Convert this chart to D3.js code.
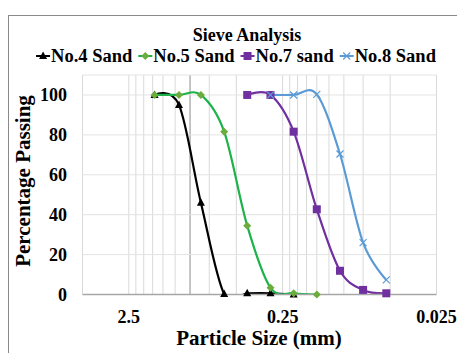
<!DOCTYPE html>
<html><head><meta charset="utf-8">
<script src="https://cdn.jsdelivr.net/npm/d3@7"></script>
<style>
html,body{margin:0;padding:0;background:#fff;}
svg text{font-family:"Liberation Serif","Times New Roman",serif;font-weight:bold;fill:#000;}
</style></head>
<body><svg id="c" width="457" height="353"></svg>
<script>
// ---- data ----
const sizes4 = [1.7, 1.18, 0.85, 0.6, 0.425, 0.3, 0.212];
const no4Sand = [100, 95, 46, 0.3, 0.6, 0.6, 0];
const sizes5 = [1.7, 1.18, 0.85, 0.6, 0.425, 0.3, 0.212, 0.15];
const no5Sand = [100, 100, 100, 81.6, 34.5, 3.4, 0.6, 0];
const sizes7 = [0.425, 0.3, 0.212, 0.15, 0.106, 0.075, 0.053];
const no7Sand = [100, 100, 81.6, 42.7, 11.9, 2.3, 0.6];
const sizes8 = [0.3, 0.212, 0.15, 0.106, 0.075, 0.053];
const no8Sand = [100, 100, 100.3, 70.4, 26, 7.3];
const seriesNames = ["No.4 Sand", "No.5 Sand", "No.7 sand", "No.8 Sand"];
const xTickLabels = [2.5, 0.25, 0.025];
const yTickLabels = [0, 20, 40, 60, 80, 100];
const chartTitle = "Sieve Analysis";
const xTitle = "Particle Size (mm)";
const yTitle = "Percentage Passing";

const series = [
  {name: seriesNames[0], xs: sizes4, ys: no4Sand, line: "#000000", fill: "#000000", marker: "triangle"},
  {name: seriesNames[1], xs: sizes5, ys: no5Sand, line: "#1db34a", fill: "#6aad3d", marker: "diamond"},
  {name: seriesNames[2], xs: sizes7, ys: no7Sand, line: "#7030a0", fill: "#7030a0", marker: "square"},
  {name: seriesNames[3], xs: sizes8, ys: no8Sand, line: "#5b9bd5", fill: "#5b9bd5", marker: "x"}
];

const svg = d3.select("#c");
const L = 82.5, R = 436.5, T = 75, B = 294.5;
const x = d3.scaleLog().domain([5, 0.025]).range([L, R]);
const y = d3.scaleLinear().domain([0, 110]).range([B, T]);

svg.append("defs").append("clipPath").attr("id", "plotclip")
  .append("rect").attr("x", L - 6).attr("y", T - 6).attr("width", R - L + 12).attr("height", B - T + 6.5);

// outer chart border
svg.append("rect").attr("x", 8.5).attr("y", 15.5).attr("width", 460).attr("height", 350)
  .attr("fill", "none").attr("stroke", "#8a8a8a").attr("stroke-width", 1);

// minor vertical gridlines: multiples within each decade
const minorVals = [];
xTickLabels.slice(1).forEach(t => { for (let k = 2; k <= 9; k++) minorVals.push(+(t * k).toFixed(4)); });
const g = svg.append("g");
g.selectAll("line.vm").data(minorVals).join("line")
  .attr("x1", d => x(d)).attr("x2", d => x(d)).attr("y1", T).attr("y2", B)
  .attr("stroke", d => (Math.abs(d - 1) < 1e-6 ? "#8c8c8c" : "#d9d9d9")).attr("stroke-width", 1);
g.selectAll("line.vM").data([5, ...xTickLabels]).join("line")
  .attr("x1", d => x(d)).attr("x2", d => x(d)).attr("y1", T).attr("y2", B)
  .attr("stroke", "#d9d9d9").attr("stroke-width", 1);
// horizontal gridlines
g.selectAll("line.h").data([...yTickLabels.slice(1), 110]).join("line")
  .attr("x1", L).attr("x2", R).attr("y1", d => y(d)).attr("y2", d => y(d))
  .attr("stroke", "#e3e3e3").attr("stroke-width", 1);

// y tick labels
svg.selectAll("text.yt").data(yTickLabels).join("text")
  .attr("x", 67).attr("y", d => y(d)).attr("dy", "0.35em").attr("text-anchor", "end")
  .attr("font-size", 18).text(d => d);
// x tick labels
svg.selectAll("text.xt").data(xTickLabels).join("text")
  .attr("x", d => x(d)).attr("y", 323).attr("text-anchor", "middle")
  .attr("font-size", 18).text(d => d);

// titles
svg.append("text").attr("x", 247).attr("y", 41).attr("text-anchor", "middle").attr("font-size", 18).text(chartTitle);
svg.append("text").attr("x", 259).attr("y", 345).attr("text-anchor", "middle").attr("font-size", 21).text(xTitle);
svg.append("text").attr("transform", "translate(30,181) rotate(-90)").attr("text-anchor", "middle")
  .attr("font-size", 21).text(yTitle);

// marker drawing
function marker(sel, type, fill, stroke) {
  if (type === "triangle") sel.append("path").attr("d", "M0,-4.5L4,3L-4,3Z").attr("fill", fill);
  else if (type === "diamond") sel.append("path").attr("d", "M0,-4L4,0L0,4L-4,0Z").attr("fill", fill);
  else if (type === "square") sel.append("rect").attr("x", -4).attr("y", -4).attr("width", 8).attr("height", 8).attr("fill", fill);
  else sel.append("path").attr("d", "M-3.5,-3.5L3.5,3.5M-3.5,3.5L3.5,-3.5").attr("stroke", stroke).attr("stroke-width", 1.2).attr("fill", "none");
}

const lineGen = d3.line().x(d => x(d[0])).y(d => y(d[1])).curve(d3.curveCardinal.tension(0));
const plot = svg.append("g");
series.forEach(s => {
  const pts = s.xs.map((v, i) => [v, s.ys[i]]);
  plot.append("path").attr("d", lineGen(pts)).attr("clip-path", "url(#plotclip)")
    .attr("fill", "none").attr("stroke", s.line).attr("stroke-width", 2.2);
});
// x axis line
svg.append("line").attr("x1", L).attr("x2", R).attr("y1", y(0)).attr("y2", y(0))
  .attr("stroke", "#a6a6a6").attr("stroke-width", 1.5);
series.forEach(s => {
  s.xs.forEach((v, i) => {
    const m = svg.append("g").attr("transform", `translate(${x(v)},${y(s.ys[i])})`);
    marker(m, s.marker, s.fill, s.line);
  });
});

// legend
const leg = svg.append("g");
let cx = 0;
series.forEach(s => {
  const it = leg.append("g");
  it.append("line").attr("x1", 0).attr("x2", 14).attr("y1", 0).attr("y2", 0).attr("stroke", s.line).attr("stroke-width", 2);
  const m = it.append("g").attr("transform", "translate(7,0)");
  marker(m, s.marker, s.fill, s.line);
  const t = it.append("text").attr("x", 15).attr("y", 0).attr("dy", "0.35em").attr("font-size", 18.5).text(s.name);
  const w = 15 + t.node().getComputedTextLength();
  it.attr("transform", `translate(${cx},0)`);
  cx += w + 6;
});
const total = cx - 6;
leg.attr("transform", `translate(${236 - total / 2},56)`);
</script></body></html>
